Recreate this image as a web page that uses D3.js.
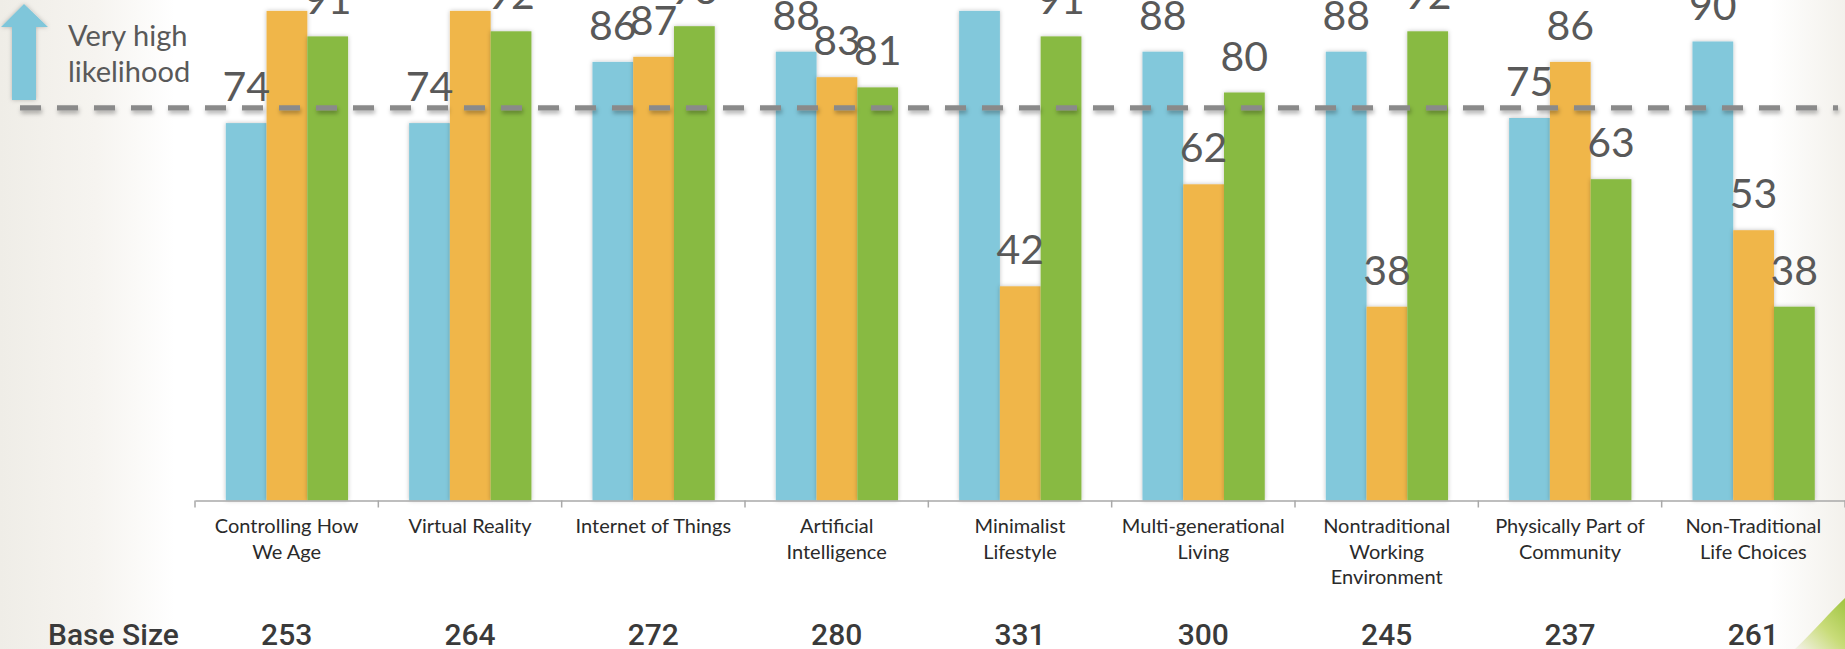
<!DOCTYPE html>
<html>
<head>
<meta charset="utf-8">
<script src="https://cdn.jsdelivr.net/npm/d3@7"></script>
<style>
  html, body { margin: 0; padding: 0; background: #ffffff; overflow: hidden; }
  svg { display: block; }
</style>
</head>
<body>
<svg id="chart" width="1845" height="649"></svg>
<script>
// ---- data ----
const categories = [
  "Controlling How\nWe Age",
  "Virtual Reality",
  "Internet of Things",
  "Artificial\nIntelligence",
  "Minimalist\nLifestyle",
  "Multi-generational\nLiving",
  "Nontraditional\nWorking\nEnvironment",
  "Physically Part of\nCommunity",
  "Non-Traditional\nLife Choices"
];
const seriesNames = ["Blue", "Orange", "Green"];
const blueValues   = [74, 74, 86, 88, 96, 88, 88, 75, 90];
const orangeValues = [96, 96, 87, 83, 42, 62, 38, 86, 53];
const greenValues  = [91, 92, 93, 81, 91, 80, 92, 63, 38];
const baseSizes    = [253, 264, 272, 280, 331, 300, 245, 237, 261];
const thresholdValue = 77;
const thresholdLabel = ["Very high", "likelihood"];
const baseSizeLabel = "Base Size";
const seriesColors = ["#82c8db", "#f0b64a", "#88ba42"];

const W = 1845, H = 649;
const svg = d3.select("#chart");
const defs = svg.append("defs");

// background
const lg = defs.append("linearGradient").attr("id", "bgLeft").attr("x1", 0).attr("x2", 1).attr("y1", 0).attr("y2", 0);
lg.append("stop").attr("offset", "0%").attr("stop-color", "#efede7");
lg.append("stop").attr("offset", "55%").attr("stop-color", "#f6f4f0");
lg.append("stop").attr("offset", "100%").attr("stop-color", "#ffffff");
const rg = defs.append("linearGradient").attr("id", "bgRight").attr("x1", 0).attr("x2", 1).attr("y1", 0).attr("y2", 0);
rg.append("stop").attr("offset", "0%").attr("stop-color", "#ffffff");
rg.append("stop").attr("offset", "100%").attr("stop-color", "#f3f1ec");
const gg = defs.append("linearGradient").attr("id", "swoosh").attr("x1", 0).attr("x2", 1).attr("y1", 1).attr("y2", 0);
gg.append("stop").attr("offset", "0%").attr("stop-color", "#f4f2ea");
gg.append("stop").attr("offset", "50%").attr("stop-color", "#c9dc7a");
gg.append("stop").attr("offset", "100%").attr("stop-color", "#9fc43f");

svg.append("rect").attr("x", 0).attr("y", 0).attr("width", W).attr("height", H).attr("fill", "#ffffff");
svg.append("rect").attr("x", 0).attr("y", 0).attr("width", 175).attr("height", H).attr("fill", "url(#bgLeft)");
svg.append("rect").attr("x", 1770).attr("y", 0).attr("width", 75).attr("height", H).attr("fill", "url(#bgRight)");
svg.append("path")
  .attr("d", "M1795,649 C1815,630 1830,612 1845,598 L1845,649 Z")
  .attr("fill", "url(#swoosh)");

// shadows
const sh = defs.append("filter").attr("id", "barShadow").attr("x", "-20%").attr("y", "-5%").attr("width", "140%").attr("height", "110%");
sh.append("feDropShadow").attr("dx", 0).attr("dy", 0).attr("stdDeviation", 2).attr("flood-color", "#000").attr("flood-opacity", 0.25);
const sh2 = defs.append("filter").attr("id", "lineShadow").attr("filterUnits", "userSpaceOnUse")
  .attr("x", 0).attr("y", 80).attr("width", W).attr("height", 60);
sh2.append("feDropShadow").attr("dx", 1).attr("dy", 3).attr("stdDeviation", 2).attr("flood-color", "#000").attr("flood-opacity", 0.3);

// scales
const x0 = d3.scaleBand().domain(categories).range([195, 1845]).paddingInner(0).paddingOuter(0);
const bw = x0.bandwidth();
const x1 = d3.scaleBand().domain(seriesNames).range([bw * 0.168, bw * 0.835]).padding(0);
const y = d3.scaleLinear().domain([0, 100]).range([500.5, -9.5]);

const seriesValues = [blueValues, orangeValues, greenValues];
const data = categories.map((c, i) => ({
  cat: c,
  vals: seriesNames.map((s, j) => ({ key: s, value: seriesValues[j][i], color: seriesColors[j] }))
}));

// bars
const groups = svg.append("g").selectAll("g").data(data).join("g")
  .attr("transform", d => `translate(${x0(d.cat)},0)`);
groups.selectAll("rect").data(d => d.vals).join("rect")
  .attr("x", d => x1(d.key))
  .attr("width", x1.bandwidth())
  .attr("y", d => y(d.value))
  .attr("height", d => y(0) - y(d.value))
  .attr("fill", d => d.color)
  .attr("filter", "url(#barShadow)");

// axis
const axis = d3.axisBottom(x0).tickSize(0).tickFormat("");
const axG = svg.append("g").attr("transform", `translate(0,${y(0)})`).call(axis);
axG.select(".domain").attr("stroke", "#a9a9a9").attr("stroke-width", 1.5);
const boundaries = categories.map(c => x0(c)).concat([x0(categories[categories.length - 1]) + bw]);
axG.selectAll(".sep").data(boundaries).join("line").attr("class", "sep")
  .attr("x1", d => d).attr("x2", d => d).attr("y1", 0).attr("y2", 7)
  .attr("stroke", "#a9a9a9").attr("stroke-width", 1.5);

// category labels
const catG = svg.append("g");
categories.forEach(c => {
  const lines = c.split("\n");
  const t = catG.append("text")
    .attr("x", x0(c) + bw / 2)
    .attr("y", 533)
    .attr("text-anchor", "middle")
    .attr("font-family", "Lato, 'Open Sans', sans-serif")
    .attr("font-size", 20)
    .attr("fill", "#2a2a2a");
  lines.forEach((ln, k) => {
    t.append("tspan").attr("x", x0(c) + bw / 2).attr("dy", k === 0 ? 0 : 25.5).text(ln);
  });
});

// threshold dashed line
svg.append("line")
  .attr("x1", 20).attr("x2", 1838)
  .attr("y1", y(thresholdValue)).attr("y2", y(thresholdValue))
  .attr("stroke", "#8a8a8a").attr("stroke-width", 5.3)
  .attr("stroke-dasharray", "21,16")
  .attr("filter", "url(#lineShadow)");

// value labels
groups.selectAll("text.val").data(d => d.vals).join("text")
  .attr("class", "val")
  .attr("x", d => x1(d.key) + x1.bandwidth() / 2)
  .attr("y", d => y(d.value) - 22)
  .attr("text-anchor", "middle")
  .attr("font-family", "Lato, 'Open Sans', sans-serif")
  .attr("font-weight", 400)
  .attr("font-size", 41)
  .attr("fill", "#595959")
  .text(d => d.value);

// arrow
svg.append("path")
  .attr("d", "M24,4 L48,27 L36,27 L36,100 L12,100 L12,27 L1,27 Z")
  .attr("fill", "#7fc6da")
  .attr("filter", "url(#barShadow)");

// threshold label
const tl = svg.append("text")
  .attr("x", 68).attr("y", 46)
  .attr("font-family", "Lato, 'Open Sans', sans-serif")
  .attr("font-weight", 400)
  .attr("font-size", 29)
  .attr("fill", "#595959");
thresholdLabel.forEach((ln, k) => tl.append("tspan").attr("x", 68).attr("dy", k === 0 ? 0 : 36).text(ln));

// base size row
svg.append("text")
  .attr("x", 48).attr("y", 645)
  .attr("font-family", "Roboto, Lato, sans-serif")
  .attr("font-weight", 500)
  .attr("font-size", 30)
  .attr("fill", "#3a3a3a")
  .text(baseSizeLabel);
svg.append("g").selectAll("text").data(categories).join("text")
  .attr("x", d => x0(d) + bw / 2)
  .attr("y", 645)
  .attr("text-anchor", "middle")
  .attr("font-family", "Roboto, Lato, sans-serif")
  .attr("font-weight", 500)
  .attr("font-size", 30)
  .attr("fill", "#3a3a3a")
  .text((d, i) => baseSizes[i]);
</script>
</body>
</html>
